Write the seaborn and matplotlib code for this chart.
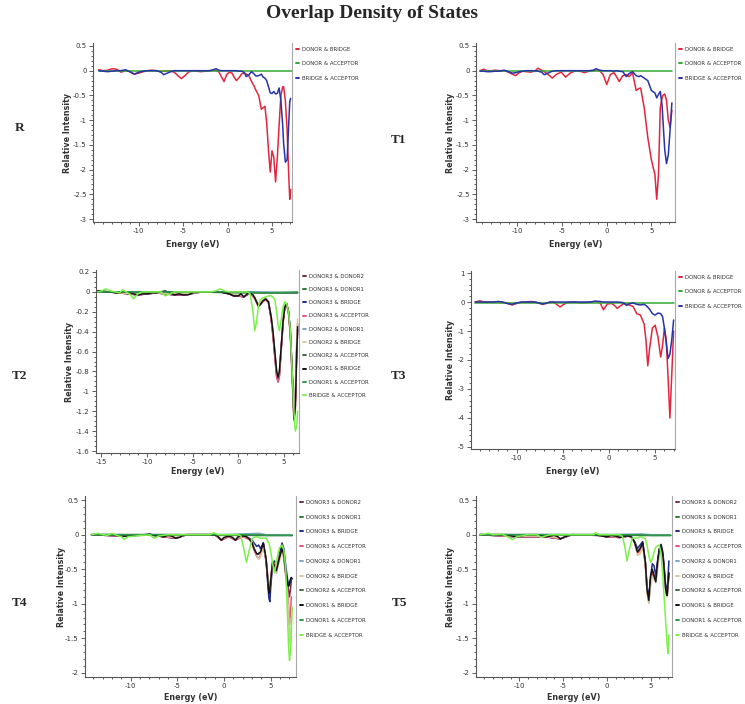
import matplotlib
matplotlib.use("Agg")
import matplotlib.pyplot as plt
from matplotlib.ticker import MultipleLocator, AutoMinorLocator, FuncFormatter, FixedLocator
import seaborn as sns

sns.set_theme(style="ticks")
plt.rcParams["font.family"] = ["DejaVu Sans"]
plt.rcParams["axes.unicode_minus"] = False

###
### DATOS (leidos a ojo de la figura)
###

# --- Panel R ---
energy_r = [-14.5, -14.0, -13.5, -13.0, -12.5, -12.0, -11.5, -11.0, -10.5, -10.0,
            -9.5, -9.0, -8.5, -8.0, -7.5, -7.2, -6.8, -6.4, -6.0, -5.6,
            -5.2, -4.8, -4.4, -4.0, -3.5, -3.0, -2.5, -2.0, -1.6, -1.3,
            -1.0, -0.7, -0.4, -0.1, 0.2, 0.5, 0.8, 1.0, 1.3, 1.6,
            1.9, 2.1, 2.4, 2.7, 3.0, 3.2, 3.5, 3.8, 4.0, 4.2,
            4.4, 4.6, 4.8, 5.0, 5.2, 5.4, 5.6, 5.8, 6.0, 6.2,
            6.3, 6.5, 6.7, 6.9, 7.0, 7.1]
r_donor_bridge = [0.02, 0.0, 0.01, 0.04, 0.03, -0.03, 0.0, -0.02, -0.07, -0.05,
                  -0.02, 0.0, 0.01, 0.0, -0.02, -0.01, 0.0, -0.01, -0.03, -0.1,
                  -0.16, -0.1, -0.03, 0.0, -0.01, -0.02, -0.01, 0.0, 0.01, 0.0,
                  -0.02, -0.12, -0.22, -0.08, -0.03, -0.05, -0.15, -0.2, -0.14, -0.06,
                  -0.05, -0.07, -0.1, -0.22, -0.32, -0.4, -0.5, -0.78, -0.75, -0.72,
                  -1.05, -1.6, -2.05, -1.62, -1.75, -2.25, -1.75, -1.1, -0.5, -0.33,
                  -0.32, -0.6, -1.2, -2.2, -2.6, -2.4]
r_bridge_acceptor = [0.0, -0.01, -0.02, -0.01, 0.0, 0.0, 0.02, -0.02, -0.07, -0.03,
                     -0.01, 0.0, 0.0, 0.0, -0.03, -0.08, -0.05, -0.02, 0.0, 0.0,
                     0.0, 0.0, 0.0, 0.0, 0.0, 0.0, 0.0, 0.0, 0.02, 0.04,
                     0.01, 0.0, 0.0, 0.0, 0.0, 0.0, 0.0, 0.0, -0.01, -0.01,
                     -0.04, -0.12, -0.08, -0.02, -0.07, -0.11, -0.1, -0.07, -0.13, -0.15,
                     -0.2, -0.32, -0.45, -0.46, -0.42, -0.47, -0.46, -0.35, -0.6, -1.1,
                     -1.45, -1.85, -1.8, -1.0, -0.62, -0.56]
energy_r_flat = [-14.5, -5.0, 0.0, 7.2]
r_donor_acceptor = [-0.01, -0.01, -0.01, -0.01]

# --- Panel T1 ---
energy_t1 = [-14.2, -13.8, -13.4, -13.0, -12.5, -12.0, -11.5, -11.0, -10.6, -10.2,
             -9.8, -9.4, -9.0, -8.5, -8.0, -7.7, -7.3, -7.0, -6.6, -6.1,
             -5.6, -5.1, -4.6, -4.1, -3.5, -3.0, -2.5, -2.0, -1.5, -1.2,
             -0.8, -0.4, 0.0, 0.4, 0.8, 1.1, 1.4, 1.8, 2.2, 2.5,
             2.9, 3.3, 3.6, 3.8, 4.2, 4.6, 5.0, 5.4, 5.6, 5.8,
             6.0, 6.2, 6.3, 6.5, 6.7, 6.9, 7.1, 7.3]
t1_donor_bridge = [0.0, 0.03, 0.0, 0.0, 0.01, 0.0, 0.0, -0.03, -0.07, -0.1,
                   -0.04, -0.01, -0.02, -0.03, 0.0, 0.05, 0.01, -0.02, -0.07, -0.15,
                   -0.07, -0.03, -0.13, -0.05, 0.0, -0.01, -0.04, -0.01, 0.0, 0.01,
                   0.0, -0.08, -0.28, -0.08, -0.04, -0.12, -0.22, -0.1, -0.08, -0.12,
                   -0.05, -0.4, -0.36, -0.35, -0.75, -1.35, -1.8, -2.1, -2.6, -2.1,
                   -0.75, -0.55, -0.5, -0.47, -0.6, -1.0, -1.15, -0.8]
t1_bridge_acceptor = [-0.01, -0.01, -0.02, -0.02, -0.01, -0.01, 0.01, -0.02, -0.05, -0.04,
                      -0.02, -0.01, 0.0, 0.0, 0.0, -0.01, -0.03, -0.08, -0.05, -0.01,
                      0.0, 0.0, 0.0, 0.0, 0.0, 0.0, 0.0, 0.0, 0.01, 0.04,
                      0.01, 0.0, 0.0, 0.0, -0.01, 0.0, -0.01, -0.02, -0.12, -0.06,
                      -0.02, -0.1, -0.12, -0.1, -0.15, -0.2, -0.4, -0.45, -0.55, -0.48,
                      -0.42, -0.7, -1.0, -1.6, -1.88, -1.7, -1.2, -0.65]
energy_t1_flat = [-14.2, -5.0, 0.0, 7.3]
t1_donor_acceptor = [-0.01, -0.01, -0.01, -0.01]

# --- Panel T3 ---
energy_t3 = [-14.5, -14.0, -13.5, -13.0, -12.5, -12.0, -11.5, -11.0, -10.5, -10.0,
             -9.5, -9.0, -8.5, -8.0, -7.6, -7.2, -6.8, -6.4, -6.0, -5.6,
             -5.3, -4.9, -4.5, -4.0, -3.5, -3.0, -2.5, -2.0, -1.5, -1.0,
             -0.6, -0.2, 0.3, 0.6, 0.9, 1.3, 1.6, 1.9, 2.2, 2.6,
             3.0, 3.4, 3.8, 4.0, 4.2, 4.4, 4.7, 5.0, 5.3, 5.6,
             5.8, 6.0, 6.2, 6.4, 6.6, 6.8, 7.0]
t3_donor_bridge = [0.0, 0.04, 0.0, 0.0, 0.0, 0.0, -0.02, -0.05, -0.1, -0.05,
                   -0.01, 0.0, 0.02, 0.0, -0.04, -0.08, -0.05, -0.01, 0.0, -0.1,
                   -0.17, -0.08, -0.02, 0.0, -0.01, -0.03, -0.02, 0.0, 0.02, 0.0,
                   -0.27, -0.07, -0.05, -0.12, -0.22, -0.12, -0.06, -0.06, -0.1, -0.15,
                   -0.4, -0.45, -0.75, -1.3, -2.2, -1.6, -0.9, -0.8, -1.2, -1.9,
                   -1.5, -0.9, -1.3, -2.6, -4.0, -2.5, -1.0]
t3_bridge_acceptor = [0.0, 0.0, 0.0, 0.0, 0.0, 0.02, 0.0, -0.05, -0.08, -0.03,
                      0.0, 0.0, 0.0, 0.0, -0.03, -0.07, -0.04, 0.0, 0.0, 0.0,
                      0.0, 0.0, 0.0, 0.0, 0.0, 0.0, 0.0, 0.0, 0.03, 0.02,
                      0.0, 0.0, 0.0, 0.0, 0.0, -0.01, -0.03, -0.12, -0.06, -0.03,
                      -0.08, -0.1, -0.08, -0.12, -0.18, -0.25, -0.4, -0.45, -0.38, -0.4,
                      -0.5, -0.9, -1.4, -1.95, -1.8, -1.3, -0.62]
energy_t3_flat = [-14.5, -5.0, 0.0, 7.0]
t3_donor_acceptor = [-0.02, -0.02, -0.02, -0.02]

# --- Panel T2 ---
energy_t2 = [-15.4, -15.0, -14.5, -14.0, -13.5, -13.0, -12.7, -12.3, -11.8, -11.5,
             -11.0, -10.5, -10.0, -9.5, -9.0, -8.5, -8.0, -7.5, -7.0, -6.5,
             -6.0, -5.5, -5.0, -4.5, -4.0, -3.5, -3.0, -2.5, -2.0, -1.5,
             -1.0, -0.5, 0.0, 0.3, 0.6, 1.0, 1.3, 1.6, 1.8, 2.0,
             2.2, 2.4, 2.7, 3.0, 3.3, 3.6, 3.8, 4.0, 4.2, 4.35,
             4.5, 4.7, 4.9, 5.1, 5.3, 5.5, 5.7, 5.9, 6.1, 6.25,
             6.4, 6.5]
t2_d1_bridge = [0.01, 0.01, 0.0, 0.0, -0.01, -0.01, 0.0, 0.0, -0.01, -0.02,
                -0.03, -0.02, -0.02, -0.01, -0.01, 0.0, 0.01, -0.01, -0.03, -0.02,
                -0.03, -0.03, -0.01, 0.0, 0.0, 0.0, 0.0, 0.0, 0.0, -0.01,
                -0.02, -0.04, -0.04, -0.02, -0.05, -0.02, -0.01, -0.03, -0.06, -0.1,
                -0.14, -0.13, -0.09, -0.07, -0.1, -0.25, -0.4, -0.6, -0.8, -0.86,
                -0.8, -0.55, -0.3, -0.15, -0.12, -0.2, -0.4, -0.8, -1.28, -1.15,
                -0.6, -0.35]
t2_bridge_acceptor = [0.0, 0.01, 0.03, 0.01, 0.0, -0.01, 0.02, 0.0, -0.03, -0.07,
                      -0.02, 0.0, 0.0, 0.0, 0.0, 0.0, -0.04, -0.02, 0.0, 0.0,
                      0.0, 0.0, 0.0, 0.0, 0.0, 0.0, 0.0, 0.01, 0.03, 0.01,
                      0.0, 0.0, 0.0, 0.0, 0.0, 0.0, -0.02, -0.2, -0.39, -0.3,
                      -0.15, -0.08, -0.06, -0.05, -0.04, -0.04, -0.05, -0.08, -0.2, -0.33,
                      -0.39, -0.28, -0.15, -0.1, -0.12, -0.2, -0.38, -0.8, -1.2, -1.4,
                      -1.35, -1.2]
energy_t2_b = [-15.4, -13.0, -11.0, -9.0, -7.0, -6.0, -4.0, -2.0, -1.0, -0.5,
               0.0, 0.6, 1.3, 1.8, 2.2, 2.7, 3.0, 3.3, 3.6, 3.8,
               4.0, 4.2, 4.35, 4.5, 4.7, 4.9, 5.1, 5.3, 5.5, 5.7,
               5.9, 6.1, 6.25, 6.4, 6.5]
t2_d3_d2 = [0.01, -0.01, -0.03, -0.01, -0.03, -0.03, 0.0, 0.0, -0.02, -0.04,
            -0.04, -0.05, -0.01, -0.06, -0.14, -0.09, -0.07, -0.1, -0.26, -0.42,
            -0.62, -0.82, -0.88, -0.82, -0.56, -0.3, -0.15, -0.12, -0.2, -0.42,
            -0.82, -1.25, -1.1, -0.55, -0.32]
t2_d3_bridge = [0.01, -0.01, -0.03, -0.01, -0.03, -0.03, 0.0, 0.0, -0.02, -0.04,
                -0.04, -0.05, -0.01, -0.06, -0.13, -0.09, -0.07, -0.1, -0.27, -0.44,
                -0.65, -0.85, -0.9, -0.84, -0.57, -0.3, -0.14, -0.12, -0.2, -0.4,
                -0.8, -1.22, -1.08, -0.6, -0.38]
t2_d3_acceptor = [0.01, -0.01, -0.03, -0.01, -0.03, -0.03, 0.0, 0.0, -0.02, -0.04,
                  -0.04, -0.05, -0.01, -0.07, -0.15, -0.1, -0.08, -0.11, -0.28, -0.45,
                  -0.66, -0.85, -0.91, -0.86, -0.6, -0.32, -0.16, -0.13, -0.22, -0.42,
                  -0.85, -1.3, -1.2, -0.62, -0.4]
t2_d2_bridge = [0.01, -0.01, -0.02, -0.01, -0.02, -0.02, 0.0, 0.0, -0.01, -0.03,
                -0.03, -0.04, -0.01, -0.05, -0.12, -0.08, -0.06, -0.09, -0.24, -0.4,
                -0.6, -0.8, -0.86, -0.8, -0.55, -0.28, -0.13, -0.11, -0.22, -0.45,
                -0.9, -1.3, -1.0, -0.45, -0.27]
energy_t2_flat = [-15.4, -5.0, 0.0, 3.0, 6.5]
t2_d3_d1 = [0.0, 0.0, 0.0, -0.01, -0.01]
t2_d2_d1 = [0.0, 0.0, 0.0, 0.0, -0.01]
t2_d2_acceptor = [0.0, 0.0, -0.01, -0.01, -0.01]
t2_d1_acceptor = [0.0, 0.0, 0.0, -0.01, 0.0]

# --- Panel T4 ---
energy_t4 = [-14.2, -13.5, -13.0, -12.5, -12.0, -11.5, -11.0, -10.7, -10.3, -9.5,
             -9.0, -8.5, -8.0, -7.5, -7.0, -6.5, -6.0, -5.6, -5.2, -4.8,
             -4.4, -4.0, -3.0, -2.0, -1.5, -1.1, -0.7, -0.3, 0.0, 0.5,
             0.9, 1.2, 1.5, 1.8, 2.1, 2.4, 2.7, 3.0, 3.2, 3.5,
             3.7, 3.9, 4.2, 4.5, 4.8, 4.9, 5.0, 5.2, 5.4, 5.6,
             5.9, 6.2, 6.4, 6.6, 6.8, 6.9, 7.0, 7.1, 7.2, 7.3]
t4_d1_bridge = [0.0, 0.0, 0.0, 0.0, 0.0, -0.01, -0.02, -0.02, -0.02, -0.01,
                -0.01, 0.0, 0.01, -0.01, -0.02, -0.03, -0.01, -0.02, -0.05, -0.04,
                -0.01, 0.0, 0.0, 0.0, 0.0, 0.0, -0.02, -0.08, -0.04, -0.02,
                -0.04, -0.08, -0.03, -0.02, -0.02, -0.03, -0.06, -0.12, -0.2, -0.28,
                -0.27, -0.25, -0.12, -0.35, -0.85, -0.8, -0.65, -0.4, -0.45, -0.52,
                -0.35, -0.2, -0.3, -0.55, -0.72, -0.75, -0.72, -0.65, -0.62, -0.64]
t4_bridge_acceptor = [0.0, 0.02, 0.0, -0.01, 0.02, -0.01, -0.03, -0.07, -0.03, -0.02,
                      -0.01, -0.01, 0.0, -0.05, -0.02, -0.01, 0.0, 0.0, 0.0, 0.0,
                      0.0, 0.0, 0.0, 0.0, 0.0, 0.03, 0.0, 0.0, 0.0, 0.0,
                      0.0, 0.0, 0.0, -0.02, -0.2, -0.4, -0.22, -0.06, -0.04, -0.03,
                      -0.04, -0.05, -0.05, -0.05, -0.12, -0.18, -0.25, -0.42, -0.55, -0.38,
                      -0.2, -0.15, -0.22, -0.5, -1.2, -1.6, -1.82, -1.7, -1.4, -1.05]
energy_t4_b = [-14.2, -11.0, -8.0, -6.5, -5.2, -4.0, -1.0, -0.3, 0.5, 1.2,
               2.0, 2.7, 3.0, 3.2, 3.5, 3.7, 3.9, 4.2, 4.5, 4.8,
               4.9, 5.0, 5.2, 5.4, 5.6, 5.9, 6.2, 6.4, 6.6, 6.8,
               6.9, 7.0, 7.1, 7.2]
t4_d3_d2 = [0.0, -0.02, 0.0, -0.03, -0.05, 0.0, 0.0, -0.08, -0.02, -0.08,
            -0.02, -0.06, -0.12, -0.2, -0.29, -0.28, -0.26, -0.13, -0.36, -0.84,
            -0.82, -0.66, -0.4, -0.44, -0.52, -0.34, -0.2, -0.31, -0.56, -0.74,
            -0.8, -0.9, -0.8, -0.66]
t4_d3_bridge = [0.0, -0.02, 0.0, -0.03, -0.05, 0.0, 0.0, -0.07, -0.02, -0.07,
                -0.02, -0.05, -0.08, -0.12, -0.17, -0.15, -0.2, -0.12, -0.4, -0.92,
                -0.97, -0.75, -0.42, -0.38, -0.55, -0.3, -0.12, -0.2, -0.45, -0.65,
                -0.72, -0.7, -0.66, -0.62]
t4_d3_acceptor = [0.0, -0.02, 0.0, -0.03, -0.05, 0.0, 0.0, -0.08, -0.03, -0.08,
                  -0.03, -0.07, -0.13, -0.22, -0.32, -0.34, -0.3, -0.15, -0.38, -0.82,
                  -0.8, -0.62, -0.38, -0.42, -0.5, -0.32, -0.22, -0.33, -0.58, -0.8,
                  -1.0, -1.3, -1.15, -0.9]
t4_d2_bridge = [0.0, -0.01, 0.0, -0.02, -0.04, 0.0, 0.0, -0.06, -0.02, -0.06,
                -0.02, -0.05, -0.1, -0.18, -0.3, -0.36, -0.32, -0.18, -0.35, -0.75,
                -0.78, -0.62, -0.45, -0.48, -0.56, -0.4, -0.25, -0.35, -0.6, -0.9,
                -1.1, -1.45, -1.6, -1.2]
energy_t4_flat = [-14.2, -5.0, 0.0, 3.7, 4.5, 7.3]
t4_d3_d1 = [0.0, 0.0, 0.0, -0.01, -0.01, -0.01]
t4_d2_d1 = [0.0, 0.0, 0.0, 0.02, 0.0, -0.01]
t4_d2_acceptor = [0.0, 0.0, -0.01, -0.01, -0.01, -0.01]
t4_d1_acceptor = [0.0, 0.0, 0.0, 0.0, -0.01, -0.01]

# --- Panel T5 ---
energy_t5 = [-14.5, -13.5, -13.0, -12.0, -11.5, -10.8, -10.3, -9.5, -9.0, -8.0,
             -7.5, -7.0, -6.5, -6.0, -5.6, -5.3, -4.8, -4.0, -3.0, -2.0,
             -1.5, -1.3, -0.9, -0.5, 0.0, 0.5, 1.0, 1.5, 1.8, 2.1,
             2.3, 2.6, 2.9, 3.2, 3.5, 3.8, 4.1, 4.4, 4.6, 4.8,
             5.0, 5.2, 5.4, 5.6, 5.8, 6.0, 6.2, 6.4, 6.5, 6.7,
             6.8, 6.9, 7.0, 7.1]
t5_d1_bridge = [0.0, 0.0, 0.0, 0.0, 0.0, -0.02, -0.03, -0.01, 0.0, 0.0,
                -0.01, -0.03, -0.02, -0.01, -0.03, -0.06, -0.03, 0.0, 0.0, 0.0,
                0.0, 0.0, -0.01, -0.02, -0.03, -0.01, -0.02, -0.04, -0.03, -0.02,
                -0.02, -0.02, -0.04, -0.12, -0.25, -0.2, -0.12, -0.4, -0.8, -0.95,
                -0.6, -0.5, -0.6, -0.68, -0.4, -0.2, -0.15, -0.3, -0.42, -0.75,
                -0.85, -0.88, -0.7, -0.55]
t5_bridge_acceptor = [0.0, 0.02, 0.0, 0.01, -0.02, -0.07, -0.03, -0.01, 0.0, 0.0,
                      -0.04, -0.02, 0.0, 0.0, 0.0, 0.0, 0.0, 0.0, 0.0, 0.0,
                      0.0, 0.03, 0.0, 0.0, 0.0, 0.0, 0.0, 0.0, -0.03, -0.2,
                      -0.38, -0.2, -0.05, -0.05, -0.05, -0.03, -0.04, -0.06, -0.15, -0.3,
                      -0.4, -0.35, -0.25, -0.18, -0.16, -0.15, -0.28, -0.6, -0.8, -1.2,
                      -1.4, -1.6, -1.72, -1.45]
energy_t5_b = [-14.5, -10.3, -7.0, -5.3, -4.0, -1.0, 0.0, 1.5, 2.5, 2.9,
               3.2, 3.5, 3.8, 4.1, 4.4, 4.6, 4.8, 5.0, 5.2, 5.4,
               5.6, 5.8, 6.0, 6.2, 6.4, 6.5, 6.7, 6.9, 7.0, 7.1]
t5_d3_d2 = [0.0, -0.03, -0.03, -0.06, 0.0, -0.01, -0.03, -0.04, -0.02, -0.05,
            -0.12, -0.26, -0.22, -0.13, -0.4, -0.8, -0.96, -0.65, -0.52, -0.6,
            -0.66, -0.42, -0.22, -0.17, -0.3, -0.44, -0.76, -0.88, -0.72, -0.56]
t5_d3_bridge = [0.0, -0.03, -0.03, -0.06, 0.0, -0.01, -0.03, -0.04, -0.02, -0.05,
                -0.1, -0.2, -0.15, -0.1, -0.38, -0.75, -0.9, -0.62, -0.42, -0.45,
                -0.6, -0.38, -0.22, -0.14, -0.25, -0.38, -0.7, -0.85, -0.6, -0.38]
t5_d3_acceptor = [0.0, -0.03, -0.03, -0.06, 0.0, -0.01, -0.03, -0.04, -0.02, -0.05,
                  -0.13, -0.27, -0.24, -0.14, -0.42, -0.82, -0.98, -0.7, -0.55, -0.62,
                  -0.65, -0.45, -0.26, -0.2, -0.32, -0.45, -0.78, -0.85, -0.7, -0.6]
t5_d2_bridge = [0.0, -0.02, -0.02, -0.05, 0.0, -0.01, -0.02, -0.03, -0.02, -0.05,
                -0.12, -0.3, -0.28, -0.18, -0.45, -0.85, -1.0, -0.75, -0.6, -0.65,
                -0.7, -0.5, -0.3, -0.22, -0.35, -0.5, -0.8, -0.9, -0.75, -0.65]
energy_t5_flat = [-14.5, -5.0, 0.0, 4.0, 5.0, 7.3]
t5_d3_d1 = [0.0, 0.0, 0.0, -0.01, -0.01, -0.01]
t5_d2_d1 = [0.0, 0.0, 0.0, 0.01, 0.0, -0.01]
t5_d2_acceptor = [0.0, 0.0, -0.01, -0.01, -0.01, -0.01]
t5_d1_acceptor = [0.0, 0.0, 0.0, 0.0, -0.01, -0.01]

# Marcas del eje de energia
xticks_std = [-10, -5, 0, 5]
xticks_t2 = [-15, -10, -5, 0, 5]

# Colores
RED, GREEN, BLUE = "#e3263f", "#35a834", "#2534a8"
C_D3D2, C_D3D1, C_D3B, C_D3A = "#6e2c4c", "#2e7d32", "#1f2a8a", "#e8557a"
C_D2D1, C_D2B, C_D2A = "#7fa7c9", "#d9c9a0", "#3d6b45"
C_D1B, C_D1A, C_BA = "#111111", "#2e9a4e", "#7cf04a"

###
### FUNCIONES
###

W, H = 745, 704
fig = plt.figure(figsize=(W / 100, H / 100), dpi=100)


def tick_fmt(v, pos):
    v = round(v, 4)
    if v == 0:
        return "0"
    return f"{v:g}"


def draw_panel(box, series, xlim, xticks, ylim, ystep, nminor, ylab_x, xlab_y, spacing):
    left, top, right, bottom = box
    ax = fig.add_axes([left / W, 1 - bottom / H, (right - left) / W, (bottom - top) / H])
    for energy, values, label, color in series:
        sns.lineplot(x=energy, y=values, ax=ax, color=color, lw=1.1,
                     label=label, sort=False, estimator=None)
    ax.set_xlim(*xlim)
    ax.set_ylim(*ylim)
    ax.xaxis.set_major_locator(FixedLocator(xticks))
    ax.xaxis.set_minor_locator(MultipleLocator(1))
    ax.yaxis.set_major_locator(MultipleLocator(ystep))
    ax.yaxis.set_minor_locator(AutoMinorLocator(nminor))
    ax.xaxis.set_major_formatter(FuncFormatter(tick_fmt))
    ax.yaxis.set_major_formatter(FuncFormatter(tick_fmt))
    ax.tick_params(which="both", direction="out", colors="#444", labelsize=5,
                   width=0.6, pad=1.5, labelcolor="#333")
    ax.tick_params(which="major", length=3)
    ax.tick_params(which="minor", length=1.6)
    ax.set_xlabel("Energy (eV)", fontsize=5.8, fontweight="bold", color="#333")
    ax.set_ylabel("Relative Intensity", fontsize=5.8, fontweight="bold", color="#333")
    ax.xaxis.set_label_coords(0.5, (bottom - xlab_y + 4) / (bottom - top))
    ax.yaxis.set_label_coords((ylab_x + 4 - left) / (right - left), 0.5)
    ax.spines["top"].set_visible(False)
    ax.spines["left"].set_color("#555")
    ax.spines["bottom"].set_color("#555")
    ax.spines["right"].set_color("#a8a8a8")
    for s in ["left", "bottom", "right"]:
        ax.spines[s].set_linewidth(0.8)
    leg = ax.legend(loc="upper left", bbox_to_anchor=(1.0, 1.0), frameon=False,
                    fontsize=3.9, handlelength=0.6, handletextpad=0.5,
                    labelspacing=spacing, borderaxespad=0.2, borderpad=0.5)
    for t in leg.get_texts():
        t.set_color("#333")
    for line in leg.get_lines():
        line.set_linewidth(1.4)
    return ax


###
### FIGURA
###

draw_panel((93, 43, 292, 222),
           [(energy_r, r_donor_bridge, "DONOR & BRIDGE", RED),
            (energy_r_flat, r_donor_acceptor, "DONOR & ACCEPTOR", GREEN),
            (energy_r, r_bridge_acceptor, "BRIDGE & ACCEPTOR", BLUE)],
           (-15.15, 7.25), xticks_std, (-3.06, 0.56), 0.5, 5, 68, 244, 1.75)

draw_panel((476, 43, 675, 222),
           [(energy_t1, t1_donor_bridge, "DONOR & BRIDGE", RED),
            (energy_t1_flat, t1_donor_acceptor, "DONOR & ACCEPTOR", GREEN),
            (energy_t1, t1_bridge_acceptor, "BRIDGE & ACCEPTOR", BLUE)],
           (-14.65, 7.65), xticks_std, (-3.06, 0.56), 0.5, 5, 451, 244, 1.75)

draw_panel((96, 270, 299, 453),
           [(energy_t2_b, t2_d3_d2, "DONOR3 & DONOR2", C_D3D2),
            (energy_t2_flat, t2_d3_d1, "DONOR3 & DONOR1", C_D3D1),
            (energy_t2_b, t2_d3_bridge, "DONOR3 & BRIDGE", C_D3B),
            (energy_t2_b, t2_d3_acceptor, "DONOR3 & ACCEPTOR", C_D3A),
            (energy_t2_flat, t2_d2_d1, "DONOR2 & DONOR1", C_D2D1),
            (energy_t2_b, t2_d2_bridge, "DONOR2 & BRIDGE", C_D2B),
            (energy_t2_flat, t2_d2_acceptor, "DONOR2 & ACCEPTOR", C_D2A),
            (energy_t2, t2_d1_bridge, "DONOR1 & BRIDGE", C_D1B),
            (energy_t2_flat, t2_d1_acceptor, "DONOR1 & ACCEPTOR", C_D1A),
            (energy_t2, t2_bridge_acceptor, "BRIDGE & ACCEPTOR", C_BA)],
           (-15.6, 6.65), xticks_t2, (-1.62, 0.22), 0.2, 4, 70, 471, 1.52)

draw_panel((471, 271, 675, 449),
           [(energy_t3, t3_donor_bridge, "DONOR & BRIDGE", RED),
            (energy_t3_flat, t3_donor_acceptor, "DONOR & ACCEPTOR", GREEN),
            (energy_t3, t3_bridge_acceptor, "BRIDGE & ACCEPTOR", BLUE)],
           (-14.95, 7.15), xticks_std, (-5.07, 1.07), 1, 5, 451, 471, 1.75)

draw_panel((85, 496, 296, 677),
           [(energy_t4_b, t4_d3_d2, "DONOR3 & DONOR2", C_D3D2),
            (energy_t4_flat, t4_d3_d1, "DONOR3 & DONOR1", C_D3D1),
            (energy_t4_b, t4_d3_bridge, "DONOR3 & BRIDGE", C_D3B),
            (energy_t4_b, t4_d3_acceptor, "DONOR3 & ACCEPTOR", C_D3A),
            (energy_t4_flat, t4_d2_d1, "DONOR2 & DONOR1", C_D2D1),
            (energy_t4_b, t4_d2_bridge, "DONOR2 & BRIDGE", C_D2B),
            (energy_t4_flat, t4_d2_acceptor, "DONOR2 & ACCEPTOR", C_D2A),
            (energy_t4, t4_d1_bridge, "DONOR1 & BRIDGE", C_D1B),
            (energy_t4_flat, t4_d1_acceptor, "DONOR1 & ACCEPTOR", C_D1A),
            (energy_t4, t4_bridge_acceptor, "BRIDGE & ACCEPTOR", C_BA)],
           (-14.9, 7.7), xticks_std, (-2.06, 0.56), 0.5, 5, 62, 697, 1.8)

draw_panel((476, 496, 672, 677),
           [(energy_t5_b, t5_d3_d2, "DONOR3 & DONOR2", C_D3D2),
            (energy_t5_flat, t5_d3_d1, "DONOR3 & DONOR1", C_D3D1),
            (energy_t5_b, t5_d3_bridge, "DONOR3 & BRIDGE", C_D3B),
            (energy_t5_b, t5_d3_acceptor, "DONOR3 & ACCEPTOR", C_D3A),
            (energy_t5_flat, t5_d2_d1, "DONOR2 & DONOR1", C_D2D1),
            (energy_t5_b, t5_d2_bridge, "DONOR2 & BRIDGE", C_D2B),
            (energy_t5_flat, t5_d2_acceptor, "DONOR2 & ACCEPTOR", C_D2A),
            (energy_t5, t5_d1_bridge, "DONOR1 & BRIDGE", C_D1B),
            (energy_t5_flat, t5_d1_acceptor, "DONOR1 & ACCEPTOR", C_D1A),
            (energy_t5, t5_bridge_acceptor, "BRIDGE & ACCEPTOR", C_BA)],
           (-14.95, 7.45), xticks_std, (-2.06, 0.56), 0.5, 5, 451, 697, 1.8)

# Titulo y etiquetas de panel
fig.text(372 / W, 1 - 13 / H, "Overlap Density of States", ha="center", va="center",
         fontsize=14, fontweight="bold", family="Liberation Serif")
for name, px, py in [("R", 20, 128), ("T1", 399, 140), ("T2", 20, 376),
                     ("T3", 399, 376), ("T4", 20, 603), ("T5", 400, 603)]:
    fig.text(px / W, 1 - py / H, name, ha="center", va="center",
             fontsize=9.5, fontweight="bold", family="Liberation Serif")

fig.savefig("out.png", dpi=100)
